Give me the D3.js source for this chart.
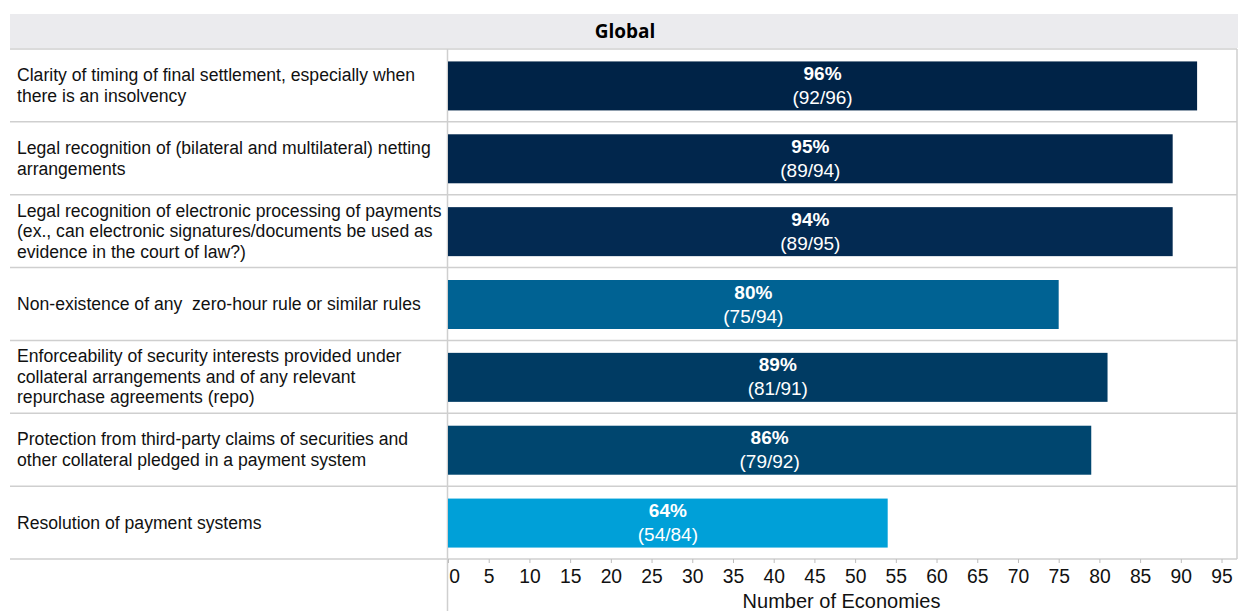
<!DOCTYPE html>
<html>
<head>
<meta charset="utf-8">
<script src="https://cdn.jsdelivr.net/npm/d3@7"></script>
<style>
  html, body { margin: 0; padding: 0; background: #fff; }
  svg { display: block; font-family: "Liberation Sans", Arial, sans-serif; }
  svg text { white-space: pre; }
</style>
</head>
<body>
<svg id="chart" width="1238" height="611"></svg>
<script>
// Legal framework criteria, number of economies meeting each one
const categories = [
  ["Clarity of timing of final settlement, especially when", "there is an insolvency"],
  ["Legal recognition of (bilateral and multilateral) netting", "arrangements"],
  ["Legal recognition of electronic processing of payments", "(ex., can electronic signatures/documents be used as", "evidence in the court of law?)"],
  ["Non-existence of any  zero-hour rule or similar rules"],
  ["Enforceability of security interests provided under", "collateral arrangements and of any relevant", "repurchase agreements (repo)"],
  ["Protection from third-party claims of securities and", "other collateral pledged in a payment system"],
  ["Resolution of payment systems"]
];
const yesCounts = [92, 89, 89, 75, 81, 79, 54];
const respondents = [96, 94, 95, 94, 91, 92, 84];
const percentLabels = ["96%", "95%", "94%", "80%", "89%", "86%", "64%"];
const barColors = ["#002347", "#01264c", "#032a52", "#006293", "#003b63", "#00466f", "#00a0d8"];
const xTicks = d3.range(0, 100, 5);
const title = "Global";
const xTitle = "Number of Economies";

const svg = d3.select("#chart");
const left = 10, right = 1237, plotLeft = 448;
const headTop = 14, headBottom = 48;
const rowsTop = 49, rowsBottom = 559;

// header band
svg.append("rect").attr("x", left).attr("y", headTop)
  .attr("width", 1238 - left).attr("height", headBottom - headTop)
  .attr("fill", "#ebebee");
svg.append("text").attr("x", 625).attr("y", 31)
  .attr("text-anchor", "middle").attr("dominant-baseline", "central")
  .attr("font-family", "'Open Sans', 'Liberation Sans', sans-serif")
  .attr("font-weight", "bold").attr("font-size", 19).attr("fill", "#000")
  .text(title);

const x = d3.scaleLinear().domain([0, 96.9]).range([plotLeft, right]);
const y = d3.scaleBand().domain(d3.range(categories.length))
  .range([rowsTop, rowsBottom]).paddingInner(0).paddingOuter(0);

// row separators
const seps = d3.range(categories.length + 1).map(i => rowsTop + i * y.step());
svg.append("g").selectAll("line").data(seps).join("line")
  .attr("x1", left).attr("x2", right)
  .attr("y1", d => d).attr("y2", d => d)
  .attr("stroke", "#cfcfcf").attr("stroke-width", 1.5);

// vertical dividers
svg.append("line").attr("x1", plotLeft - 0.5).attr("x2", plotLeft - 0.5)
  .attr("y1", rowsTop).attr("y2", 611).attr("stroke", "#cfcfcf").attr("stroke-width", 1.5);
svg.append("line").attr("x1", right).attr("x2", right)
  .attr("y1", rowsTop).attr("y2", rowsBottom).attr("stroke", "#cfcfcf").attr("stroke-width", 1.5);

// category labels
const lab = svg.append("g").selectAll("text").data(categories).join("text")
  .attr("font-size", 17.6).attr("fill", "#111");
lab.each(function(lines, i) {
  const cy = y(i) + y.bandwidth() / 2;
  const lh = 20.5;
  const start = cy - (lines.length - 1) * lh / 2;
  d3.select(this).selectAll("tspan").data(lines).join("tspan")
    .attr("x", 17).attr("y", (d, j) => start + j * lh)
    .attr("dominant-baseline", "central")
    .text(d => d);
});

// bars
const barH = 49;
svg.append("g").selectAll("rect").data(yesCounts).join("rect")
  .attr("x", x(0)).attr("y", (d, i) => y(i) + (y.bandwidth() - barH) / 2 + 0.5)
  .attr("width", d => x(d) - x(0)).attr("height", barH)
  .attr("fill", (d, i) => barColors[i]);

// value labels
const vl = svg.append("g").selectAll("g").data(yesCounts).join("g")
  .attr("transform", (d, i) => `translate(${(x(0) + x(d)) / 2},${y(i) + y.bandwidth() / 2})`);
vl.append("text").attr("y", -12).attr("text-anchor", "middle").attr("dominant-baseline", "central")
  .attr("font-weight", "bold").attr("font-size", 19).attr("fill", "#fff")
  .text((d, i) => percentLabels[i]);
vl.append("text").attr("y", 12).attr("text-anchor", "middle").attr("dominant-baseline", "central")
  .attr("font-size", 19).attr("fill", "#fff")
  .text((d, i) => `(${d}/${respondents[i]})`);

// x axis
const axis = svg.append("g").attr("transform", `translate(0,${rowsBottom})`)
  .call(d3.axisBottom(x).tickValues(xTicks).tickSize(4).tickSizeOuter(0).tickPadding(6));
axis.select(".domain").remove();
axis.selectAll(".tick line").attr("stroke", "#bdbdbd");
axis.selectAll(".tick text").attr("font-size", 19.3).attr("fill", "#111")
  .attr("font-family", "'Liberation Sans', Arial, sans-serif");
// the zero label sits just right of the divider line
axis.selectAll(".tick").filter(d => d === 0).select("text").attr("dx", 6);

svg.append("text").attr("x", (plotLeft + right) / 2 - 1).attr("y", 601)
  .attr("text-anchor", "middle").attr("dominant-baseline", "central")
  .attr("font-size", 20).attr("fill", "#111").text(xTitle);
</script>
</body>
</html>
